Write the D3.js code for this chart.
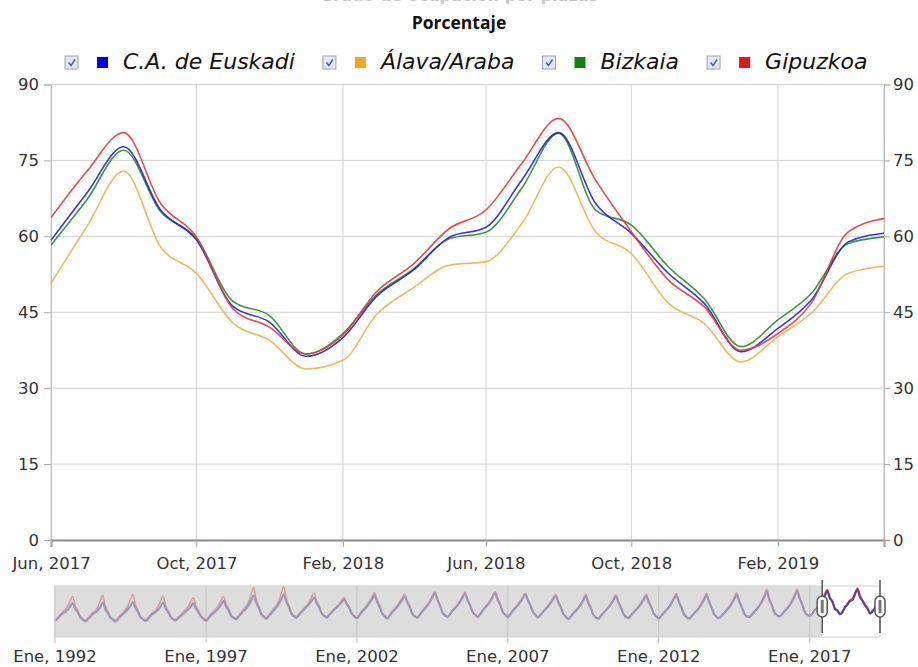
<!DOCTYPE html>
<html>
<head>
<meta charset="utf-8">
<script src="https://cdn.jsdelivr.net/npm/d3@7.9.0/dist/d3.min.js"></script>
<style>
  body { margin: 0; background: #fff; }
  svg text { font-family: "DejaVu Sans", Verdana, sans-serif; fill: #333; }
</style>
</head>
<body>
<svg id="chart" width="918" height="667"></svg>
<script>
// ---- data ----
const monthNames = ["Ene", "Feb", "Mar", "Abr", "May", "Jun", "Jul", "Ago", "Sep", "Oct", "Nov", "Dic"];
const months = [
  "2017-06", "2017-07", "2017-08", "2017-09", "2017-10", "2017-11", "2017-12",
  "2018-01", "2018-02", "2018-03", "2018-04", "2018-05", "2018-06", "2018-07", "2018-08",
  "2018-09", "2018-10", "2018-11", "2018-12", "2019-01", "2019-02", "2019-03", "2019-04", "2019-05"
];
const euskadi = [59.2, 68.5, 77.7, 65.2, 59.3, 46.1, 43.1, 36.3, 40.0, 48.1, 53.3, 59.8,
  61.8, 71.1, 80.5, 66.5, 60.6, 52.7, 46.8, 37.2, 41.8, 47.4, 58.9, 60.6];
const alava = [50.7, 61.9, 72.9, 57.9, 52.7, 42.8, 39.5, 33.8, 35.5, 44.5, 49.8, 54.3,
  55.0, 62.5, 73.7, 60.9, 56.6, 46.8, 42.8, 35.2, 40.2, 44.8, 52.7, 54.1];
const bizkaia = [58.3, 67.2, 77.0, 64.9, 59.6, 47.1, 44.4, 36.7, 40.8, 48.4, 53.5, 59.5,
  60.8, 69.5, 80.4, 65.2, 62.2, 54.0, 47.7, 38.2, 43.5, 48.7, 58.6, 59.9];
const gipuzkoa = [63.7, 72.8, 80.5, 66.5, 59.9, 45.6, 42.1, 36.8, 40.5, 49.0, 54.5, 61.5,
  65.2, 74.4, 83.3, 71.1, 60.9, 51.4, 46.1, 37.5, 40.8, 46.8, 60.9, 63.5];

const seriesNames = ["C.A. de Euskadi", "Álava/Araba", "Bizkaia", "Gipuzkoa"];
const seriesColors = ["#0000dd", "#f0a820", "#108010", "#e01818"];
const lineColors = ["#2222cc", "#e8b450", "#2a8a2a", "#e03a3a"];
const yTicks = [0, 15, 30, 45, 60, 75, 90];

// navigator history, Jan 1992 - May 2017 (one row per year)
const histStart = "1992-01";
const euskadiHist = [
  24, 28, 33, 37, 40, 44, 50, 56, 46, 40, 31, 27,
  23, 27, 31, 36, 39, 43, 49, 57, 45, 38, 30, 26,
  23, 27, 32, 36, 40, 45, 51, 58, 47, 40, 31, 27,
  24, 28, 33, 37, 40, 44, 50, 57, 46, 40, 31, 27,
  25, 29, 33, 37, 41, 45, 50, 56, 46, 40, 32, 28,
  24, 29, 34, 38, 42, 47, 53, 60, 50, 43, 33, 29,
  27, 32, 37, 42, 46, 53, 61, 70, 57, 48, 36, 31,
  28, 33, 38, 43, 48, 55, 63, 72, 58, 49, 37, 32,
  30, 35, 40, 44, 49, 54, 60, 66, 56, 48, 38, 33,
  30, 35, 39, 44, 48, 53, 58, 63, 54, 47, 37, 32,
  29, 34, 40, 45, 50, 56, 63, 70, 59, 50, 38, 33,
  28, 33, 39, 44, 49, 55, 62, 68, 58, 49, 37, 32,
  30, 35, 41, 46, 51, 58, 66, 74, 62, 52, 39, 34,
  31, 36, 42, 47, 52, 58, 66, 73, 61, 52, 40, 35,
  31, 36, 42, 48, 53, 59, 67, 74, 62, 53, 40, 35,
  31, 36, 42, 47, 52, 58, 65, 72, 61, 52, 40, 35,
  30, 35, 40, 45, 50, 56, 63, 69, 58, 49, 37, 32,
  27, 32, 37, 42, 47, 53, 61, 69, 56, 47, 35, 30,
  28, 33, 38, 43, 48, 54, 61, 68, 57, 48, 36, 31,
  29, 34, 39, 44, 49, 55, 62, 69, 58, 49, 37, 32,
  28, 33, 38, 43, 48, 55, 63, 70, 58, 48, 36, 31,
  28, 32, 37, 42, 47, 54, 62, 70, 58, 48, 36, 31,
  29, 33, 38, 43, 48, 55, 63, 71, 59, 49, 37, 32,
  31, 35, 40, 45, 51, 58, 67, 77, 62, 52, 39, 34,
  32, 36, 41, 46, 52, 59, 68, 78, 64, 54, 40, 35,
  33, 37, 43, 47, 53
];
const gipuzkoaHist = [
  26, 30, 35, 40, 44, 50, 60, 68, 52, 43, 32, 28,
  25, 29, 33, 39, 42, 49, 61, 70, 51, 41, 31, 27,
  25, 29, 34, 39, 44, 51, 63, 72, 53, 43, 32, 28,
  26, 30, 35, 40, 43, 50, 60, 69, 52, 42, 32, 28,
  27, 31, 35, 40, 44, 50, 59, 66, 51, 43, 33, 29,
  26, 31, 36, 41, 46, 52, 61, 68, 55, 46, 34, 30,
  29, 34, 39, 45, 50, 58, 72, 84, 63, 51, 38, 33,
  30, 35, 40, 46, 52, 60, 74, 86, 64, 52, 39, 34,
  32, 37, 42, 47, 52, 58, 67, 74, 60, 51, 39, 34,
  31, 36, 41, 46, 50, 55, 61, 66, 56, 49, 38, 33,
  31, 36, 42, 47, 52, 59, 67, 75, 62, 52, 39, 34,
  30, 35, 41, 46, 51, 58, 65, 72, 60, 51, 38, 33,
  31, 36, 42, 48, 53, 60, 69, 77, 64, 53, 40, 35,
  32, 37, 43, 48, 53, 60, 68, 76, 63, 53, 41, 36,
  32, 37, 43, 49, 54, 61, 69, 77, 64, 54, 41, 36,
  32, 37, 43, 48, 53, 60, 67, 74, 62, 53, 41, 36,
  31, 36, 41, 46, 51, 58, 65, 72, 60, 50, 38, 33,
  28, 33, 38, 43, 48, 55, 63, 72, 58, 48, 36, 31,
  29, 34, 39, 44, 49, 56, 63, 71, 59, 49, 37, 32,
  30, 35, 40, 45, 50, 57, 64, 72, 60, 50, 38, 33,
  29, 34, 39, 44, 49, 57, 66, 74, 60, 49, 37, 32,
  29, 33, 38, 43, 48, 56, 65, 74, 60, 49, 37, 32,
  30, 34, 39, 44, 49, 57, 66, 75, 61, 50, 38, 33,
  32, 36, 41, 46, 52, 60, 70, 81, 64, 53, 40, 35,
  33, 37, 42, 47, 53, 61, 71, 81, 66, 55, 41, 36,
  34, 38, 44, 48, 55
];
const navTickYears = [1992, 1997, 2002, 2007, 2012, 2017];

// ---- helpers ----
const parseMonth = d3.timeParse("%Y-%m");
const fmtMonth = (d) => `${monthNames[d.getMonth()]}, ${d.getFullYear()}`;
const dates = months.map(parseMonth);

let svg = d3.select("#chart");

// title, cut off by the top edge as in the picture
svg.append("text")
  .attr("x", 459).attr("y", 0.5)
  .attr("text-anchor", "middle")
  .style("font-size", "16px").style("font-weight", "bold")
  .style("fill", "#c4c4c4")
  .text("Grado de ocupación por plazas");

svg.append("text")
  .attr("x", 459).attr("y", 29)
  .attr("text-anchor", "middle")
  .style("font-family", "'Open Sans', sans-serif")
  .style("font-size", "17.5px").style("font-weight", "bold")
  .style("fill", "#111")
  .text("Porcentaje");

// ---- legend ----
let legend = svg.append("g");
let lx = 65;
seriesNames.forEach((name, i) => {
  let g = legend.append("g").attr("transform", `translate(${lx},56)`);
  g.append("rect").attr("width", 13).attr("height", 13)
    .attr("fill", "#e2e7f1").attr("stroke", "#9aa3b6");
  g.append("path").attr("d", "M3.5,6.5 L6,9.5 L10,3.5")
    .attr("fill", "none").attr("stroke", "#4a5aa0").attr("stroke-width", 1.4);
  g.append("rect").attr("x", 32).attr("y", 1).attr("width", 11).attr("height", 11)
    .attr("fill", seriesColors[i]);
  let t = g.append("text").attr("x", 58).attr("y", 12.5)
    .style("font-size", "22px").style("font-style", "italic").style("fill", "#111")
    .text(name);
  lx += 58 + t.node().getComputedTextLength() + 28;
});

// ---- main chart ----
const plotLeft = 51, plotRight = 884, plotTop = 84.5, plotBottom = 540;
let x = d3.scaleTime().domain([dates[0], dates[dates.length - 1]]).range([plotLeft, plotRight]);
let y = d3.scaleLinear().domain([0, 90]).range([plotBottom, plotTop]);
let tickDates = dates.filter((d, i) => i % 4 === 0);

// grid
svg.append("g").selectAll("line").data(yTicks.slice(1)).join("line")
  .attr("x1", plotLeft).attr("x2", plotRight)
  .attr("y1", (d) => y(d)).attr("y2", (d) => y(d))
  .attr("stroke", "#d2d2d2");
svg.append("g").selectAll("line").data(tickDates).join("line")
  .attr("x1", (d) => x(d)).attr("x2", (d) => x(d))
  .attr("y1", plotTop).attr("y2", plotBottom)
  .attr("stroke", "#d2d2d2");
svg.append("line").attr("x1", plotRight).attr("x2", plotRight).attr("y1", plotTop).attr("y2", plotBottom)
  .attr("stroke", "#bdbdbd");

// axes
let yLeft = svg.append("g").attr("transform", `translate(${plotLeft},0)`)
  .call(d3.axisLeft(y).tickValues(yTicks).tickSize(7).tickPadding(5));
let yRight = svg.append("g").attr("transform", `translate(${plotRight},0)`)
  .call(d3.axisRight(y).tickValues(yTicks).tickSize(6).tickPadding(3));
let xAxis = svg.append("g").attr("transform", `translate(0,${plotBottom})`)
  .call(d3.axisBottom(x).tickValues(tickDates.concat([dates[dates.length - 1]])).tickSize(7).tickPadding(10)
    .tickFormat((d, i) => (i < tickDates.length ? fmtMonth(d) : "")));
[yLeft, yRight, xAxis].forEach((a) => {
  a.selectAll("text").style("font-size", "16.5px").style("fill", "#333");
  a.selectAll(".tick line").attr("stroke", "#aaa");
  a.select(".domain").attr("stroke", "#bdbdbd");
});
xAxis.select(".domain").attr("stroke", "#8a8a8a").attr("stroke-width", 2);

// lines
const allSeries = [euskadi, alava, bizkaia, gipuzkoa];
let line = d3.line()
  .x((d, i) => x(dates[i]))
  .y((d) => y(d))
  .curve(d3.curveMonotoneX);
// draw order: alava, bizkaia, euskadi, gipuzkoa
[1, 2, 0, 3].forEach((idx) => {
  svg.append("path")
    .attr("d", line(allSeries[idx]))
    .attr("fill", "none")
    .attr("stroke", lineColors[idx])
    .attr("stroke-width", 1.6)
    .attr("stroke-opacity", 0.9);
});

// ---- navigator ----
const nLeft = 55, nRight = 880, nTop = 586, nBottom = 637;
let navDates = d3.range(euskadiHist.length).map((i) => d3.timeMonth.offset(parseMonth(histStart), i)).concat(dates);
let navE = euskadiHist.concat(euskadi);
let navG = gipuzkoaHist.concat(gipuzkoa);
let nx = d3.scaleTime().domain([navDates[0], navDates[navDates.length - 1]]).range([nLeft, nRight]);
let ny = d3.scaleLinear().domain([-5, 87]).range([nBottom, nTop]);

svg.append("rect").attr("x", nLeft).attr("y", nTop)
  .attr("width", nRight - nLeft).attr("height", nBottom - nTop).attr("fill", "#fff");

let navTicks = navTickYears.map((yr) => new Date(yr, 0, 1));
svg.append("g").selectAll("line").data(navTicks).join("line")
  .attr("x1", (d) => nx(d)).attr("x2", (d) => nx(d))
  .attr("y1", nTop).attr("y2", nBottom + 6)
  .attr("stroke", "#bdbdbd");
svg.append("g").selectAll("text").data(navTicks).join("text")
  .attr("x", (d) => nx(d)).attr("y", 662)
  .attr("text-anchor", "middle")
  .style("font-size", "16.5px")
  .text((d) => fmtMonth(d));

let navLine = d3.line()
  .x((d, i) => nx(navDates[i]))
  .y((d) => ny(d))
  .curve(d3.curveMonotoneX);
svg.append("path").attr("d", navLine(navG))
  .attr("fill", "none").attr("stroke", "#e04848").attr("stroke-width", 1.6).attr("stroke-opacity", 0.85);
svg.append("path").attr("d", navLine(navE))
  .attr("fill", "none").attr("stroke", "#4a3a8a").attr("stroke-width", 2.2).attr("stroke-opacity", 0.9);

// shaded (unselected) part
let selStart = nx(dates[0]);
svg.append("rect").attr("x", nLeft).attr("y", nTop)
  .attr("width", selStart - nLeft).attr("height", nBottom - nTop)
  .attr("fill", "#c8c8c8").attr("fill-opacity", 0.62);
svg.append("rect").attr("x", nLeft).attr("y", nTop)
  .attr("width", nRight - nLeft).attr("height", nBottom - nTop)
  .attr("fill", "none").attr("stroke", "#cfcfcf");

// handles
[selStart, nRight].forEach((hx) => {
  let h = svg.append("g").attr("transform", `translate(${hx},0)`);
  h.append("line").attr("y1", 580).attr("y2", 633).attr("stroke", "#555").attr("stroke-width", 1.5);
  h.append("rect").attr("x", -5).attr("y", 596).attr("width", 10).attr("height", 21).attr("rx", 5)
    .attr("fill", "#fff").attr("stroke", "#555").attr("stroke-width", 1.5);
  h.append("rect").attr("x", -1.5).attr("y", 600).attr("width", 3).attr("height", 13)
    .attr("fill", "#777");
});
</script>
</body>
</html>
